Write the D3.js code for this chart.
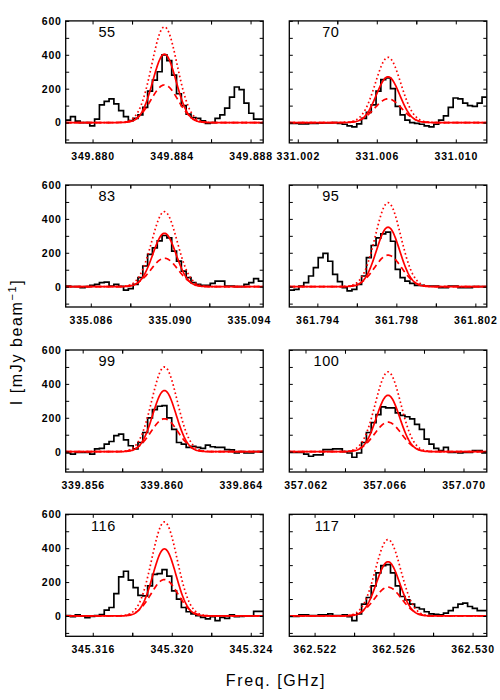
<!DOCTYPE html>
<html>
<head>
<meta charset="utf-8">
<script src="https://d3js.org/d3.v7.min.js"></script>
<style>
    body { margin: 0; background: #fff; }
    .tick text { font-family: "Liberation Sans", Arial, sans-serif; font-weight: bold; font-size: 10.5px; letter-spacing: 0.8px; fill: #000; }
    .tick line { stroke: #000; stroke-width: 1; }
    .num { font-family: "Liberation Sans", Arial, sans-serif; font-size: 14.5px; letter-spacing: 0.5px; }
    .title { font-family: "Liberation Sans", Arial, sans-serif; font-size: 16px; letter-spacing: 1.6px; }
</style>
</head>
<body>
<div id="chart"></div>
<script>
    // panel labels, line centres (GHz) and fitted peaks (mJy/beam)
    var panelIds = ["55", "70", "83", "95", "99", "100", "116", "117"];
    var lineFreq = [349.88364, 331.00657, 335.08973, 361.79758, 339.86014, 357.06618, 345.31963, 362.52572];
    var xLabels = [
        [349.880, 349.884, 349.888],
        [331.002, 331.006, 331.010],
        [335.086, 335.090, 335.094],
        [361.794, 361.798, 361.802],
        [339.856, 339.860, 339.864],
        [357.062, 357.066, 357.070],
        [345.316, 345.320, 345.324],
        [362.522, 362.526, 362.530]
    ];
    var peakSolid = [404, 270, 315, 351, 361, 333, 396, 320];
    var peakDotted = [565, 385, 443, 496, 500, 471, 555, 451];
    var peakDashed = [222, 140, 168, 186, 194, 174, 215, 170];
    var widthSolid = 0.00059, widthDotted = 0.00064, widthDashed = 0.00068;

    var yLabels = [0, 200, 400, 600];
    var chanWidth = 0.000244;

    // observed spectra, one value per channel starting at the left edge
    var spec55 = [15, 35, 8, 0, 0, -20, 20, 105, 125, 140, 110, 70, 35, 12, 25, 45, 90, 185, 250, 300, 400, 365, 280, 170, 100, 50, 30, 25, 10, -5, 0, 25, 45, 85, 150, 210, 195, 115, 55, 20, 20];
    var spec70 = [-5, -5, -8, -8, -5, -5, -3, -2, -2, 0, -5, -10, -20, -25, -8, 25, 60, 105, 185, 253, 263, 200, 95, 45, 15, 0, -5, -10, -20, -25, -10, 15, 40, 90, 145, 140, 115, 100, 95, 115, 150];
    var spec83 = [4, 0, 0, -6, 0, 8, 14, 24, 27, 4, 14, 2, -20, -12, 14, 53, 122, 190, 229, 270, 302, 288, 210, 151, 92, 53, 24, 14, 8, 8, 20, 33, 33, 4, 4, 0, 0, 14, 24, 47, 33];
    var spec95 = [-20, -16, 4, 24, 63, 112, 171, 196, 150, 73, 30, -6, -25, -16, 14, 63, 171, 243, 288, 312, 322, 268, 102, 53, 33, 20, 8, 8, 4, 4, 4, -6, -6, 4, 4, -6, -6, -6, 0, 0, 0];
    var spec99 = [-8, -14, -4, -4, -4, -14, 16, 20, 45, 60, 95, 103, 70, 35, 16, 54, 113, 200, 248, 268, 272, 200, 132, 54, 45, 25, 31, 25, 19, 39, 29, 25, 25, 12, 10, -8, 0, -8, -8, 0, 0];
    var spec100 = [-4, -4, -4, -14, -27, -19, -19, 12, 12, 16, 16, 0, -8, -33, -8, 54, 113, 171, 219, 264, 258, 258, 229, 214, 206, 194, 161, 132, 74, 45, 19, 6, 25, -4, -4, -8, -4, -4, 6, 6, -8];
    var spec116 = [2, -4, 6, 0, -10, -2, 2, 8, 35, 50, 132, 231, 264, 212, 167, 122, 118, 177, 245, 250, 274, 235, 148, 99, 50, 25, 12, 2, -8, -17, -4, -27, -8, -14, 6, -4, -2, 0, 0, 27, 27];
    var spec117 = [-2, -2, 6, 6, 2, 2, 6, 6, 12, 2, 2, 6, -4, -27, 12, 70, 109, 177, 254, 297, 303, 254, 177, 115, 95, 70, 50, 41, 25, 12, 10, 6, 17, 31, 50, 70, 76, 56, 45, 31, 31];
    var spectra = [spec55, spec70, spec83, spec95, spec99, spec100, spec116, spec117];

    var colLeft = [65.7, 289.3];
    var rowTop = [20.9, 185, 350, 514.3];
    var pw = 197.5, ph = 122;

    var svg = d3.select("#chart").append("svg")
        .attr("width", 500)
        .attr("height", 700);

    var y = d3.scaleLinear().domain([-120, 600]).range([ph, 0]);
    var yMinor = d3.range(-100, 601, 100);

    function gauss(f, c, a, s) {
        return a * Math.exp(-(f - c) * (f - c) / (2 * s * s));
    }

    panelIds.forEach(function (id, p) {
        var c = lineFreq[p];
        var x = d3.scaleLinear().domain([c - 0.005, c + 0.005]).range([0, pw]);
        var g = svg.append("g")
            .attr("transform", "translate(" + colLeft[p % 2] + "," + rowTop[Math.floor(p / 2)] + ")");

        g.append("clipPath").attr("id", "clip" + p)
            .append("rect").attr("width", pw).attr("height", ph);

        var plot = g.append("g").attr("clip-path", "url(#clip" + p + ")");

        // x ticks every 0.002, labels every 0.004
        var labs = xLabels[p];
        var xt = [];
        labs.forEach(function (v) { xt.push(v - 0.002, v, v + 0.002); });
        xt = xt.filter(function (v) { return v > x.domain()[0] && v < x.domain()[1]; });
        var fmt = function (v) {
            return labs.some(function (l) { return Math.abs(l - v) < 1e-7; }) ? d3.format(".3f")(v) : "";
        };

        g.append("g").attr("transform", "translate(0," + ph + ")")
            .call(d3.axisBottom(x).tickValues(xt).tickFormat(fmt).tickSize(-3.5).tickPadding(9.3))
            .call(function (a) { a.select(".domain").remove(); });
        g.append("g")
            .call(d3.axisTop(x).tickValues(xt).tickFormat("").tickSize(-3.5))
            .call(function (a) { a.select(".domain").remove(); });
        g.append("g")
            .call(d3.axisLeft(y).tickValues(yMinor).tickSize(-3.5).tickPadding(4)
                .tickFormat(function (v) { return (p % 2 == 0 && yLabels.indexOf(v) >= 0) ? v : ""; }))
            .call(function (a) { a.select(".domain").remove(); });
        g.append("g").attr("transform", "translate(" + pw + ",0)")
            .call(d3.axisRight(y).tickValues(yMinor).tickFormat("").tickSize(-3.5))
            .call(function (a) { a.select(".domain").remove(); });

        // observed spectrum as histogram
        var sp = spectra[p];
        var pts = sp.map(function (v, i) { return [x.domain()[0] + i * chanWidth, v]; });
        pts.push([x.domain()[0] + sp.length * chanWidth, sp[sp.length - 1]]);
        plot.append("path")
            .datum(pts)
            .attr("fill", "none")
            .attr("stroke", "#000")
            .attr("stroke-width", 1.7)
            .attr("d", d3.line()
                .x(function (d) { return x(d[0]); })
                .y(function (d) { return y(d[1]); })
                .curve(d3.curveStepAfter));

        // model curves
        var fs = d3.range(0, 301).map(function (i) { return x.domain()[0] + i * 0.01 / 300; });
        var models = [
            { a: peakDotted[p], s: widthDotted, dash: "1.6,2.6" },
            { a: peakDashed[p], s: widthDashed, dash: "6,4" },
            { a: peakSolid[p], s: widthSolid, dash: null }
        ];
        models.forEach(function (m) {
            plot.append("path")
                .datum(fs)
                .attr("fill", "none")
                .attr("stroke", "#ff0000")
                .attr("stroke-width", 1.7)
                .attr("stroke-dasharray", m.dash)
                .attr("d", d3.line()
                    .x(function (f) { return x(f); })
                    .y(function (f) { return y(gauss(f, c, m.a, m.s)); }));
        });

        g.append("rect")
            .attr("width", pw).attr("height", ph)
            .attr("fill", "none").attr("stroke", "#000").attr("stroke-width", 1.3);

        g.append("text")
            .attr("class", "num")
            .attr("x", 50).attr("y", 16.3)
            .attr("text-anchor", "end")
            .text(id);
    });

    // axis titles
    var yt = svg.append("text")
        .attr("class", "title")
        .attr("transform", "translate(22,342) rotate(-90)")
        .attr("text-anchor", "middle");
    yt.append("tspan").text("I [mJy beam");
    yt.append("tspan").attr("dy", -6).attr("font-size", 11).text("\u22121");
    yt.append("tspan").attr("dy", 6).text("]");

    svg.append("text")
        .attr("class", "title")
        .attr("x", 276).attr("y", 686)
        .attr("text-anchor", "middle")
        .text("Freq. [GHz]");
</script>
</body>
</html>
